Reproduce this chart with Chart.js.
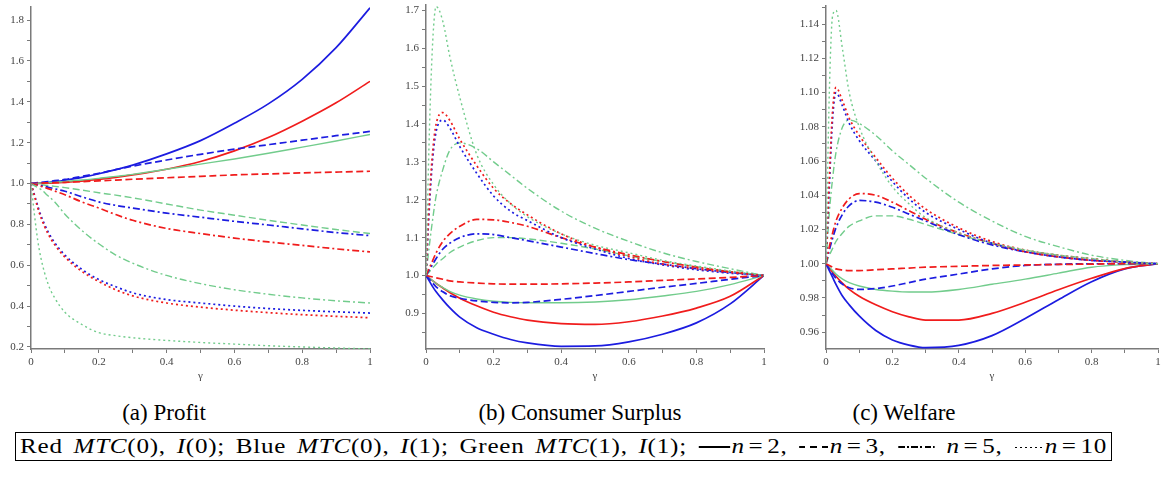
<!DOCTYPE html>
<html>
<head>
<meta charset="utf-8">
<script src="https://cdn.jsdelivr.net/npm/chart.js@4.4.1/dist/chart.umd.min.js"></script>
<style>
  html, body { margin: 0; padding: 0; background: #fff; }
  body { width: 1166px; height: 485px; position: relative; overflow: hidden; font-family: 'Liberation Serif', 'Times New Roman', serif; color: #000; }
  canvas { position: absolute; top: 0; }
  #cvProfit  { left: 0; }
  #cvSurplus { left: 390px; }
  #cvWelfare { left: 775px; }
  .cap {
    position: absolute; top: 400px; font-family: 'Liberation Serif', serif; font-size: 23px;
    white-space: nowrap; transform: translateX(-50%);
  }
  #legend {
    position: absolute; left: 15px; top: 432px; width: 1095px; height: 27px;
    border: 1px solid #000; box-sizing: content-box; overflow: hidden;
  }
  #legendText {
    position: absolute; left: 4px; top: 0; line-height: 27px; white-space: nowrap;
    font-family: 'Liberation Serif', serif; font-size: 20px; letter-spacing: 0.6px; word-spacing: 3px;
    transform-origin: left center;
  }
  #legendText i { font-style: italic; }
  .eq { padding: 0 3px; }
  .ls { display: inline-block; height: 2px; vertical-align: middle; margin: 0 1px; position: relative; top: -1px; }
  .ls.solid  { width: 25px; background: #000; }
  .ls.dash   { width: 23px; background: repeating-linear-gradient(to right, #000 0 5px, transparent 5px 9px); }
  .ls.dashdot{ width: 29px; background: repeating-linear-gradient(to right, #000 0 5px, transparent 5px 7px, #000 7px 8.5px, transparent 8.5px 10.5px); }
  .ls.dot    { width: 23px; height: 1.5px; background: repeating-linear-gradient(to right, #000 0 1.5px, transparent 1.5px 4px); }
</style>
</head>
<body>
<canvas id="cvProfit" width="385" height="390"></canvas>
<canvas id="cvSurplus" width="385" height="390"></canvas>
<canvas id="cvWelfare" width="391" height="390"></canvas>

<div class="cap" style="left:164px">(a) Profit</div>
<div class="cap" style="left:580px">(b) Consumer Surplus</div>
<div class="cap" style="left:904px">(c) Welfare</div>

<div id="legend"><span id="legendText">Red <i>MTC</i>(0), <i>I</i>(0); Blue <i>MTC</i>(0), <i>I</i>(1); Green <i>MTC</i>(1), <i>I</i>(1); <span class="ls solid"></span><i>n</i><span class="eq">=</span>2, <span class="ls dash"></span><i>n</i><span class="eq">=</span>3, <span class="ls dashdot"></span> <i>n</i><span class="eq">=</span>5, <span class="ls dot"></span><i>n</i><span class="eq">=</span>10</span></div>

<script>
// gamma sample points shared by every curve
const GAMMA = [0, 0.01, 0.02, 0.03, 0.05, 0.07, 0.1, 0.15, 0.2, 0.25, 0.3, 0.4, 0.5, 0.6, 0.7, 0.8, 0.9, 1];

// ── (a) Profit ──
const profitRed2    = [1, 1.0, 1.0, 1.001, 1.002, 1.003, 1.006, 1.012, 1.02, 1.03, 1.042, 1.07, 1.108, 1.16, 1.225, 1.305, 1.395, 1.50];
const profitRed3    = [1, 1.0, 1.001, 1.002, 1.003, 1.004, 1.006, 1.009, 1.013, 1.017, 1.021, 1.028, 1.035, 1.042, 1.047, 1.052, 1.056, 1.06];
const profitRed5    = [1, 0.996, 0.991, 0.986, 0.975, 0.963, 0.945, 0.91, 0.88, 0.848, 0.82, 0.78, 0.755, 0.733, 0.714, 0.697, 0.68, 0.665];
const profitRed10   = [1, 0.94, 0.88, 0.83, 0.755, 0.70, 0.64, 0.57, 0.52, 0.48, 0.45, 0.415, 0.395, 0.38, 0.368, 0.358, 0.35, 0.343];
const profitBlue2   = [1, 1.0, 1.001, 1.002, 1.005, 1.009, 1.016, 1.03, 1.048, 1.068, 1.09, 1.145, 1.21, 1.295, 1.39, 1.51, 1.665, 1.86];
const profitBlue3   = [1, 1.002, 1.004, 1.006, 1.01, 1.014, 1.02, 1.035, 1.05, 1.068, 1.085, 1.115, 1.143, 1.168, 1.19, 1.212, 1.234, 1.255];
const profitBlue5   = [1, 0.997, 0.993, 0.99, 0.982, 0.974, 0.962, 0.935, 0.91, 0.893, 0.88, 0.855, 0.835, 0.815, 0.797, 0.778, 0.76, 0.745];
const profitBlue10  = [1, 0.945, 0.89, 0.84, 0.765, 0.71, 0.65, 0.58, 0.53, 0.495, 0.465, 0.432, 0.415, 0.40, 0.388, 0.379, 0.372, 0.366];
const profitGreen2  = [1, 1.0, 1.001, 1.002, 1.004, 1.006, 1.01, 1.017, 1.025, 1.035, 1.045, 1.07, 1.095, 1.12, 1.148, 1.178, 1.208, 1.24];
const profitGreen3  = [1, 0.998, 0.996, 0.994, 0.99, 0.986, 0.98, 0.968, 0.955, 0.943, 0.93, 0.90, 0.87, 0.845, 0.82, 0.797, 0.775, 0.755];
const profitGreen5  = [1, 0.99, 0.98, 0.97, 0.94, 0.91, 0.85, 0.77, 0.705, 0.65, 0.61, 0.55, 0.51, 0.48, 0.458, 0.44, 0.426, 0.415];
const profitGreen10 = [1, 0.85, 0.72, 0.63, 0.51, 0.44, 0.37, 0.31, 0.27, 0.255, 0.245, 0.232, 0.222, 0.214, 0.206, 0.20, 0.195, 0.19];

// ── (b) Consumer surplus ──
const surplusRed2    = [1, 0.993, 0.986, 0.979, 0.967, 0.955, 0.94, 0.92, 0.903, 0.891, 0.882, 0.873, 0.871, 0.878, 0.893, 0.914, 0.945, 1.0];
const surplusRed3    = [1, 0.998, 0.996, 0.994, 0.99, 0.986, 0.983, 0.98, 0.978, 0.977, 0.977, 0.978, 0.98, 0.983, 0.987, 0.991, 0.995, 1.0];
const surplusRed5    = [1, 1.02, 1.04, 1.06, 1.09, 1.11, 1.13, 1.148, 1.147, 1.14, 1.13, 1.10, 1.075, 1.055, 1.037, 1.022, 1.01, 1.0];
const surplusRed10   = [1, 1.2, 1.33, 1.40, 1.43, 1.41, 1.36, 1.29, 1.23, 1.19, 1.16, 1.11, 1.075, 1.05, 1.03, 1.018, 1.008, 1.0];
const surplusBlue2   = [1, 0.985, 0.97, 0.957, 0.935, 0.915, 0.89, 0.862, 0.845, 0.831, 0.822, 0.813, 0.814, 0.825, 0.845, 0.875, 0.925, 1.0];
const surplusBlue3   = [1, 0.99, 0.98, 0.97, 0.957, 0.947, 0.94, 0.933, 0.929, 0.928, 0.929, 0.937, 0.947, 0.958, 0.969, 0.979, 0.99, 1.0];
const surplusBlue5   = [1, 1.015, 1.03, 1.045, 1.07, 1.085, 1.10, 1.11, 1.108, 1.10, 1.092, 1.075, 1.058, 1.042, 1.03, 1.018, 1.008, 1.0];
const surplusBlue10  = [1, 1.18, 1.31, 1.38, 1.41, 1.39, 1.34, 1.27, 1.21, 1.17, 1.145, 1.10, 1.07, 1.045, 1.028, 1.015, 1.006, 1.0];
const surplusGreen2  = [1, 0.993, 0.986, 0.979, 0.968, 0.958, 0.948, 0.938, 0.932, 0.929, 0.928, 0.928, 0.93, 0.936, 0.946, 0.958, 0.976, 1.0];
const surplusGreen3  = [1, 1.01, 1.02, 1.03, 1.045, 1.06, 1.075, 1.092, 1.10, 1.10, 1.097, 1.085, 1.07, 1.052, 1.037, 1.023, 1.01, 1.0];
const surplusGreen5  = [1, 1.08, 1.15, 1.21, 1.28, 1.33, 1.35, 1.335, 1.30, 1.265, 1.23, 1.17, 1.125, 1.09, 1.06, 1.037, 1.018, 1.0];
const surplusGreen10 = [1, 1.38, 1.62, 1.71, 1.67, 1.58, 1.47, 1.32, 1.24, 1.19, 1.155, 1.11, 1.08, 1.06, 1.04, 1.025, 1.012, 1.0];

// ── (c) Welfare ──
const welfareRed2    = [1, 0.9975, 0.995, 0.9927, 0.9885, 0.985, 0.981, 0.976, 0.972, 0.969, 0.9671, 0.9671, 0.971, 0.9775, 0.9848, 0.9915, 0.9972, 1.0];
const welfareRed3    = [1, 0.999, 0.998, 0.997, 0.9963, 0.996, 0.996, 0.9965, 0.997, 0.9975, 0.998, 0.9985, 0.999, 0.9993, 0.9996, 0.9998, 1.0, 1.0];
const welfareRed5    = [1, 1.01, 1.018, 1.025, 1.033, 1.038, 1.041, 1.04, 1.036, 1.031, 1.026, 1.018, 1.012, 1.007, 1.004, 1.002, 1.001, 1.0];
const welfareRed10   = [1, 1.05, 1.09, 1.103, 1.095, 1.085, 1.075, 1.062, 1.05, 1.04, 1.032, 1.021, 1.013, 1.008, 1.005, 1.003, 1.001, 1.0];
const welfareBlue2   = [1, 0.996, 0.992, 0.988, 0.981, 0.976, 0.9695, 0.961, 0.9555, 0.9525, 0.951, 0.9523, 0.958, 0.968, 0.979, 0.9895, 0.997, 1.0];
const welfareBlue3   = [1, 0.997, 0.994, 0.9915, 0.988, 0.986, 0.985, 0.9855, 0.987, 0.989, 0.991, 0.994, 0.997, 0.999, 0.9997, 1.0, 1.0, 1.0];
const welfareBlue5   = [1, 1.008, 1.015, 1.021, 1.029, 1.034, 1.037, 1.036, 1.033, 1.029, 1.025, 1.017, 1.011, 1.007, 1.004, 1.002, 1.001, 1.0];
const welfareBlue10  = [1, 1.045, 1.085, 1.10, 1.092, 1.082, 1.072, 1.06, 1.048, 1.038, 1.03, 1.02, 1.012, 1.007, 1.004, 1.002, 1.001, 1.0];
const welfareGreen2  = [1, 0.998, 0.996, 0.994, 0.991, 0.989, 0.987, 0.985, 0.984, 0.9835, 0.9835, 0.985, 0.988, 0.991, 0.9945, 0.998, 0.9995, 1.0];
const welfareGreen3  = [1, 1.005, 1.009, 1.013, 1.018, 1.022, 1.025, 1.028, 1.028, 1.026, 1.023, 1.017, 1.012, 1.008, 1.005, 1.003, 1.001, 1.0];
const welfareGreen5  = [1, 1.03, 1.05, 1.065, 1.08, 1.084, 1.082, 1.075, 1.066, 1.058, 1.05, 1.036, 1.025, 1.016, 1.01, 1.005, 1.002, 1.0];
const welfareGreen10 = [1, 1.10, 1.145, 1.148, 1.125, 1.10, 1.08, 1.06, 1.045, 1.035, 1.027, 1.018, 1.012, 1.008, 1.005, 1.003, 1.001, 1.0];

// ── styling ──
const LINE_COLOR = { red: '#f01c1c', blue: '#1c1ce0', green: '#72cc8c' };
const LINE_WIDTH = { red: 1.7, blue: 1.7, green: 1.4 };
const LINE_DASH  = { 2: [], 3: [7, 3.5], 5: [7, 3, 2, 3], 10: [2, 3] };
const AXIS_COLOR = '#7a7a7a';
const TICK_FONT  = { family: "'Liberation Serif', serif", size: 11 };

function series(color, n, values) {
  return {
    label: color + ' n=' + n,
    data: GAMMA.map((g, i) => ({ x: g, y: values[i] })),
    borderColor: LINE_COLOR[color],
    borderWidth: LINE_WIDTH[color],
    borderDash: LINE_DASH[n],
    pointRadius: 0,
    fill: false,
    cubicInterpolationMode: 'monotone'
  };
}

// fixes the axis box sizes so every panel's plot area lands where it should
function fixWidth(w) {
  return scale => { scale.width = w; scale.paddingTop = 0; scale.paddingBottom = 0; };
}
function fixHeight(h) {
  return scale => { scale.height = h; scale.paddingLeft = 0; scale.paddingRight = 0; };
}

function makePanel(id, cfg) {
  const major = Math.round(cfg.major / cfg.minor);
  return new Chart(document.getElementById(id), {
    type: 'line',
    data: { datasets: cfg.datasets },
    options: {
      responsive: false,
      animation: false,
      layout: { padding: { left: 0, top: cfg.top, right: cfg.right, bottom: 7 } },
      plugins: { legend: { display: false }, tooltip: { enabled: false } },
      scales: {
        x: {
          type: 'linear', min: 0, max: 1,
          afterFit: fixHeight(34),
          border: { display: true, color: AXIS_COLOR, width: 1.5 },
          grid: { drawOnChartArea: false, drawTicks: true, tickLength: 4, tickColor: AXIS_COLOR },
          ticks: {
            stepSize: 0.1, autoSkip: false, maxRotation: 0, padding: 3, color: '#444', font: TICK_FONT,
            callback: v => {
              const k = Math.round(v * 10);
              if (k % 2) return '';
              return k === 0 ? '0' : k === 10 ? '1' : (k / 10).toFixed(1);
            }
          },
          title: { display: true, text: 'γ', color: '#444', font: { family: "'Liberation Serif', serif", size: 11 }, padding: 0 }
        },
        y: {
          type: 'linear', min: cfg.min, max: cfg.max,
          afterFit: fixWidth(cfg.yWidth),
          border: { display: true, color: AXIS_COLOR, width: 1.5 },
          grid: { drawOnChartArea: false, drawTicks: true, tickLength: 4, tickColor: AXIS_COLOR },
          ticks: {
            stepSize: cfg.minor, includeBounds: false, autoSkip: false, padding: 3, color: '#444', font: TICK_FONT,
            callback: v => Math.round(v / cfg.minor) % major ? '' : v.toFixed(cfg.digits)
          }
        }
      }
    }
  });
}

makePanel('cvProfit', {
  min: 0.19, max: 1.864, major: 0.2, minor: 0.1, digits: 1, yWidth: 31, top: 7, right: 15,
  datasets: [
    series('green', 10, profitGreen10), series('red', 10, profitRed10), series('blue', 10, profitBlue10),
    series('green', 5, profitGreen5), series('red', 5, profitRed5), series('blue', 5, profitBlue5),
    series('green', 3, profitGreen3), series('red', 3, profitRed3), series('blue', 3, profitBlue3),
    series('green', 2, profitGreen2), series('red', 2, profitRed2), series('blue', 2, profitBlue2)
  ]
});

makePanel('cvSurplus', {
  min: 0.806, max: 1.714, major: 0.1, minor: 0.05, digits: 1, yWidth: 36, top: 5, right: 11,
  datasets: [
    series('green', 10, surplusGreen10), series('red', 10, surplusRed10), series('blue', 10, surplusBlue10),
    series('green', 5, surplusGreen5), series('red', 5, surplusRed5), series('blue', 5, surplusBlue5),
    series('green', 3, surplusGreen3), series('red', 3, surplusRed3), series('blue', 3, surplusBlue3),
    series('green', 2, surplusGreen2), series('red', 2, surplusRed2), series('blue', 2, surplusBlue2)
  ]
});

makePanel('cvWelfare', {
  min: 0.9502, max: 1.1506, major: 0.02, minor: 0.01, digits: 2, yWidth: 51, top: 6, right: 8,
  datasets: [
    series('green', 10, welfareGreen10), series('red', 10, welfareRed10), series('blue', 10, welfareBlue10),
    series('green', 5, welfareGreen5), series('red', 5, welfareRed5), series('blue', 5, welfareBlue5),
    series('green', 3, welfareGreen3), series('red', 3, welfareRed3), series('blue', 3, welfareBlue3),
    series('green', 2, welfareGreen2), series('red', 2, welfareRed2), series('blue', 2, welfareBlue2)
  ]
});

// stretch the key line so it fills its frame, as the typeset one does
const legendText = document.getElementById('legendText');
const naturalWidth = legendText.getBoundingClientRect().width;
legendText.style.transform = 'scaleX(' + (1087 / naturalWidth) + ')';
</script>
</body>
</html>
